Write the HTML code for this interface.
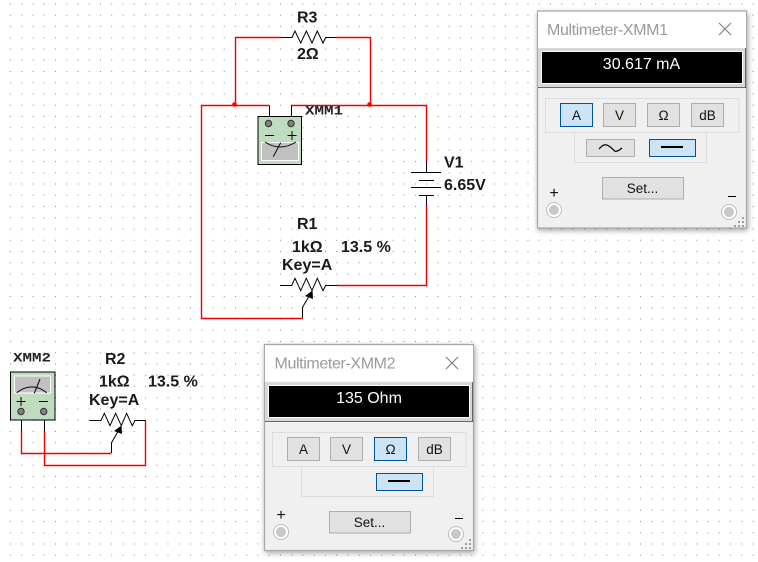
<!DOCTYPE html>
<html>
<head>
<meta charset="utf-8">
<style>
html,body{margin:0;padding:0;background:#fff;width:758px;height:562px;overflow:hidden}
svg{display:block;position:absolute;left:0;top:0}
.l{font:bold 16px "Liberation Sans",sans-serif;fill:#1a1a1a}
.m{font:bold 13px "Liberation Mono",monospace;fill:#222}
.t{font:16px "Liberation Sans",sans-serif;fill:#9a9a9a}
.d{font:16px "Liberation Sans",sans-serif;fill:#fff;text-anchor:middle}
.b{font:13.5px "Liberation Sans",sans-serif;fill:#111;text-anchor:middle}
.p{font:16px "Liberation Sans",sans-serif;fill:#111;text-anchor:middle}
.win{filter:drop-shadow(1px 2px 3px rgba(0,0,0,.35))}
</style>
</head>
<body>
<svg width="758" height="562" viewBox="0 0 758 562" xmlns="http://www.w3.org/2000/svg">
<defs>
<pattern id="g" x="10" y="3.5" width="11.25" height="11.25" patternUnits="userSpaceOnUse">
<rect x="0" y="0" width="1" height="1" fill="#8a8a8a" shape-rendering="crispEdges"/>
</pattern>
</defs>
<rect width="758" height="562" fill="#fff"/>
<rect width="758" height="562" fill="url(#g)"/>

<!-- red wires main -->
<g fill="none" stroke="#f00000" stroke-width="1.4">
<path d="M281 37.5H235.5V104.5"/>
<path d="M336 37.5H370.5V105"/>
<path d="M269 105.5H201.5V318.5H302.5"/>
<path d="M291 105.5H426.5V161"/>
<path d="M426.5 205V285.5H337"/>
<path d="M21.5 431V453.5H111"/>
<path d="M44.5 431V465.5H145.5V420.5"/>
</g>
<circle cx="234.5" cy="104.5" r="2.3" fill="#f00000"/>
<circle cx="369.5" cy="104.5" r="2.3" fill="#f00000"/>

<!-- black component wires -->
<g fill="none" stroke="#000" stroke-width="1">
<!-- R3 -->
<path d="M281 37.5H292L295 31 300.7 43 306.3 31 312 43 317.3 31 323 43 325.7 37.5H336"/>
<!-- meter 1 leads -->
<path d="M269.5 105.5V120M291.5 105.5V120"/>
<!-- battery -->
<path d="M426.5 161V172.5M411 172.5H441M419 180.5H434M411 187.5H441M419 195.5H434M426.5 195.5V205.5"/>
<!-- R1 -->
<path d="M280 285.5H291.7L295 278.3 300.7 290.7 306.3 278.3 312 290.7 317.3 278.3 323 290.7 325.7 285.5H337"/>
<path d="M302.5 318V307.3L311 293"/>
<!-- R2 -->
<path d="M89.3 420.5H101L104.3 413.3 110 425.7 115.6 413.3 121.3 425.7 126.6 413.3 132.3 425.7 135 420.5H145.5"/>
<path d="M111.5 453V442.7L120 428"/>
<!-- meter 2 leads -->
<path d="M21.5 415V431M44.5 415V431"/>
</g>
<path d="M312.5 290.5L313 299 305 296Z" fill="#000"/>
<path d="M121.5 425.5L122 434 114 431Z" fill="#000"/>

<!-- meter XMM1 -->
<rect x="258" y="116.5" width="43.5" height="48" fill="#c0dcc0" stroke="#000" stroke-width="1"/>
<circle cx="268.5" cy="123.5" r="3.2" fill="#808080" stroke="#333"/>
<circle cx="291" cy="123.5" r="3.2" fill="#808080" stroke="#333"/>
<path d="M265 135.5H274M287.5 135.5H296.5M292 131V140" stroke="#000" fill="none"/>
<rect x="261.5" y="142.5" width="37" height="18" fill="#c0c0c0" stroke="#fff"/>
<path d="M265 142Q280 152 296 142M280.7 142.7L273.3 156.7" stroke="#000" fill="none"/>
<text class="m" x="305" y="114.5" textLength="38" lengthAdjust="spacingAndGlyphs">XMM1</text>

<!-- meter XMM2 -->
<rect x="10.5" y="372" width="44.5" height="48" fill="#c0dcc0" stroke="#000" stroke-width="1"/>
<rect x="14.5" y="376" width="36" height="17" fill="#c0c0c0" stroke="#fff"/>
<path d="M16.7 392.7Q32 381 46.7 392.7M40 379L34.3 393.3" stroke="#000" fill="none"/>
<path d="M16.5 401.5H25.5M21 397V406M39 401.5H48" stroke="#000" fill="none"/>
<circle cx="21" cy="411.5" r="3.2" fill="#808080" stroke="#333"/>
<circle cx="43.7" cy="411.5" r="3.2" fill="#808080" stroke="#333"/>
<text class="m" x="13" y="361.5" textLength="38" lengthAdjust="spacingAndGlyphs">XMM2</text>

<!-- labels -->
<text class="l" x="297" y="22.7">R3</text>
<text class="l" x="297" y="59">2Ω</text>
<text class="l" x="444" y="167.7">V1</text>
<text class="l" x="444" y="190">6.65V</text>
<text class="l" x="297" y="229">R1</text>
<text class="l" x="292" y="252">1kΩ</text>
<text class="l" x="341" y="252">13.5 %</text>
<text class="l" x="282" y="270">Key=A</text>
<text class="l" x="105" y="364">R2</text>
<text class="l" x="99" y="386.7">1kΩ</text>
<text class="l" x="148" y="386.7">13.5 %</text>
<text class="l" x="89" y="405">Key=A</text>

<!-- Window 1 -->
<rect class="win" x="537.5" y="11" width="209" height="217" fill="#f0f0f0" stroke="#a8a8a8" stroke-width="1.2"/>
<rect x="538" y="12" width="208" height="36" fill="#fff"/>
<text class="t" x="547" y="35" textLength="121">Multimeter-XMM1</text>
<path d="M719 23L731 35M731 23L719 35" stroke="#777" fill="none"/>
<rect x="538" y="48" width="208" height="39" fill="#d8d8d8"/>
<rect x="541.5" y="51.5" width="201" height="32" fill="#000" stroke="#fff" stroke-width="1"/>
<path d="M538 87.5H746.5" stroke="#666" stroke-width="1"/>
<path d="M745.5 48V87" stroke="#666"/>
<text class="d" x="641.5" y="69">30.617 mA</text>
<rect x="545.5" y="98.5" width="193.5" height="34" fill="none" stroke="#dcdcdc"/>
<rect x="574.5" y="132.5" width="132" height="30" fill="none" stroke="#dcdcdc"/>
<rect x="560.5" y="103.5" width="32" height="23" fill="#cce4f7" stroke="#005499"/>
<rect x="603.5" y="103.5" width="32" height="23" fill="#e1e1e1" stroke="#adadad"/>
<rect x="647.5" y="103.5" width="32" height="23" fill="#e1e1e1" stroke="#adadad"/>
<rect x="691.5" y="103.5" width="32" height="23" fill="#e1e1e1" stroke="#adadad"/>
<text class="b" x="576.5" y="120">A</text>
<text class="b" x="619.5" y="120">V</text>
<text class="b" x="663.5" y="120">Ω</text>
<text class="b" x="707.5" y="120">dB</text>
<rect x="586.5" y="139.5" width="48" height="17" fill="#e1e1e1" stroke="#adadad"/>
<rect x="649.5" y="139.5" width="46" height="17" fill="#cce4f7" stroke="#005499"/>
<path d="M599 149Q604 143 608 145.5T614 150.5T622 148" fill="none" stroke="#000" stroke-width="1.2"/>
<rect x="661" y="146" width="22" height="2" fill="#000"/>
<rect x="602.5" y="177.5" width="81" height="21.5" fill="#e1e1e1" stroke="#adadad"/>
<text class="b" x="642.5" y="193">Set...</text>
<text class="p" x="554" y="198">+</text>
<rect x="728" y="196" width="8" height="1" fill="#000"/>
<circle cx="554" cy="210" r="7.5" fill="#fff" stroke="#bcbcbc"/>
<circle cx="554" cy="210" r="5" fill="#c8c8c8"/>
<circle cx="729" cy="212" r="7.5" fill="#fff" stroke="#bcbcbc"/>
<circle cx="729" cy="212" r="5" fill="#c8c8c8"/>
<g fill="#a0a0a0">
<rect x="742" y="217" width="2" height="2"/><rect x="738" y="221" width="2" height="2"/><rect x="742" y="221" width="2" height="2"/>
<rect x="734" y="225" width="2" height="2"/><rect x="738" y="225" width="2" height="2"/><rect x="742" y="225" width="2" height="2"/>
</g>

<!-- Window 2 -->
<rect class="win" x="264.5" y="344.5" width="209" height="206" fill="#f0f0f0" stroke="#a8a8a8" stroke-width="1.2"/>
<rect x="265" y="345.5" width="208" height="36" fill="#fff"/>
<text class="t" x="274.5" y="368.5" textLength="121">Multimeter-XMM2</text>
<path d="M446 357L458 369M458 357L446 369" stroke="#777" fill="none"/>
<rect x="265" y="382" width="208" height="39" fill="#d8d8d8"/>
<rect x="268.5" y="385.5" width="201" height="32" fill="#000" stroke="#fff" stroke-width="1"/>
<path d="M265 421.5H473.5" stroke="#666" stroke-width="1"/>
<path d="M472.5 382V421" stroke="#666"/>
<text class="d" x="369" y="403">135 Ohm</text>
<rect x="272.5" y="432.5" width="193.5" height="34" fill="none" stroke="#dcdcdc"/>
<rect x="301.5" y="466.5" width="132" height="30" fill="none" stroke="#dcdcdc"/>
<rect x="287.5" y="437.5" width="32" height="23" fill="#e1e1e1" stroke="#adadad"/>
<rect x="330.5" y="437.5" width="32" height="23" fill="#e1e1e1" stroke="#adadad"/>
<rect x="374.5" y="437.5" width="32" height="23" fill="#cce4f7" stroke="#005499"/>
<rect x="418.5" y="437.5" width="32" height="23" fill="#e1e1e1" stroke="#adadad"/>
<text class="b" x="303.5" y="454">A</text>
<text class="b" x="346.5" y="454">V</text>
<text class="b" x="390.5" y="454">Ω</text>
<text class="b" x="434.5" y="454">dB</text>
<rect x="376.5" y="473.5" width="46" height="17" fill="#cce4f7" stroke="#005499"/>
<rect x="388" y="480" width="22" height="2" fill="#000"/>
<rect x="329.5" y="511.5" width="81" height="21.5" fill="#e1e1e1" stroke="#adadad"/>
<text class="b" x="369.5" y="527">Set...</text>
<text class="p" x="281" y="520">+</text>
<rect x="455" y="518" width="8" height="1" fill="#000"/>
<circle cx="281" cy="532" r="7.5" fill="#fff" stroke="#bcbcbc"/>
<circle cx="281" cy="532" r="5" fill="#c8c8c8"/>
<circle cx="456" cy="534" r="7.5" fill="#fff" stroke="#bcbcbc"/>
<circle cx="456" cy="534" r="5" fill="#c8c8c8"/>
<g fill="#a0a0a0">
<rect x="469" y="539" width="2" height="2"/><rect x="465" y="543" width="2" height="2"/><rect x="469" y="543" width="2" height="2"/>
<rect x="461" y="547" width="2" height="2"/><rect x="465" y="547" width="2" height="2"/><rect x="469" y="547" width="2" height="2"/>
</g>
</svg>
</body>
</html>
